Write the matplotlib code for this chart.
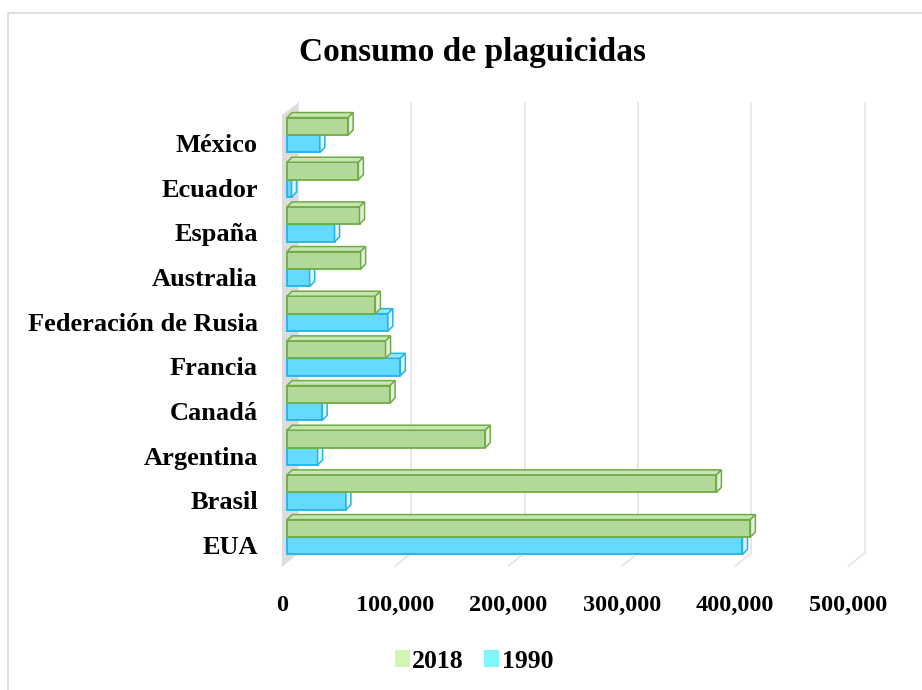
import matplotlib.pyplot as plt
from matplotlib.patches import Polygon, Rectangle, Patch
from matplotlib.transforms import ScaledTranslation

paises = ["EUA", "Brasil", "Argentina", "Canadá", "Francia",
          "Federación de Rusia", "Australia", "España", "Ecuador", "México"]
v2018 = [409000, 379000, 175000, 91000, 87000, 78000, 65000, 64000, 63000, 54000]
v1990 = [402000, 52000, 27000, 31000, 100000, 89000, 20000, 42000, 4000, 29000]
ticks = [0, 100000, 200000, 300000, 400000, 500000]

W, H = 922, 690
fig = plt.figure(figsize=(W / 100, H / 100), dpi=100)
serif = "Liberation Serif"

# axes placed in pixel terms so the fake 3D offsets are easy to reason about
ax_l, ax_r, ax_t, ax_b = 262, 890, 95, 580
ax = fig.add_axes([ax_l / W, 1 - ax_b / H, (ax_r - ax_l) / W, (ax_b - ax_t) / H])
x0_px, sx = 287, 113.3 / 1e5     # px of value 0, px per unit
y0_px, sy = 537, 44.67           # px of category 0, px per category
ax.set_xlim((ax_l - x0_px) / sx, (ax_r - x0_px) / sx)
ax.set_ylim((y0_px - ax_b) / sy, (y0_px - ax_t) / sy)


def dpx(dx, dy):
    # pixel offset -> data offset (dy positive = up)
    return dx / sx, dy / sy


# back wall / floor geometry
bx, _ = dpx(11, 0)        # back plane shift
fx, _ = dpx(-5, 0)        # front floor edge shift
y_floor_back = (y0_px - 553) / sy
y_floor_front = (y0_px - 566) / sy
y_wall_top = (y0_px - 103) / sy
y_wall_front_top = (y0_px - 115) / sy

grid_c = "#e4e4e4"
for t in ticks:
    ax.plot([t + bx, t + bx], [y_floor_back, y_wall_top], color=grid_c, lw=1.2, zorder=0)
    ax.plot([t + bx, t + fx], [y_floor_back, y_floor_front], color=grid_c, lw=1.2, zorder=0)

wall = Polygon([(fx, y_floor_front), (fx, y_wall_front_top),
                (bx, y_wall_top), (bx, y_floor_back)],
               closed=True, facecolor="#dcdcdc", edgecolor="none", zorder=0)
ax.add_patch(wall)

h = 0.39
ddx, ddy = dpx(5, 5)
idx = list(range(len(paises)))

series = [
    (v1990, [i - h for i in idx], "#66d9ff", "#1fb4ea", "#e2f5fc", "#9be6ff"),
    (v2018, idx, "#b3d998", "#6fac46", "#e6efde", "#c8e5b4"),
]
for vals, ys, face, edge, side_c, top_c in series:
    ax.barh(ys, vals, height=h, align="edge", color=face, edgecolor=edge,
            linewidth=1.3, zorder=2)
    for v, y in zip(vals, ys):
        top = Polygon([(0, y + h), (v, y + h), (v + ddx, y + h + ddy), (ddx, y + h + ddy)],
                      closed=True, facecolor=top_c, edgecolor=edge, lw=1.1, zorder=2)
        side = Polygon([(v, y), (v, y + h), (v + ddx, y + h + ddy), (v + ddx, y + ddy)],
                       closed=True, facecolor=side_c, edgecolor=edge, lw=1.1, zorder=2)
        ax.add_patch(top)
        ax.add_patch(side)

for s in ax.spines.values():
    s.set_visible(False)

ax.set_xticks(ticks)
ax.set_xticklabels([f"{t:,}" for t in ticks], fontfamily=serif,
                   fontweight="bold", fontsize=17.5)
ax.tick_params(axis="x", length=0, pad=11)
for lab in ax.get_xticklabels():
    lab.set_transform(lab.get_transform() + ScaledTranslation(-5 / 100, 0, fig.dpi_scale_trans))

ax.set_yticks(idx)
ax.set_yticklabels(paises, fontfamily=serif, fontweight="bold", fontsize=19)
ax.tick_params(axis="y", length=0, pad=3)
for lab in ax.get_yticklabels():
    lab.set_transform(lab.get_transform() + ScaledTranslation(0, -8 / 100, fig.dpi_scale_trans))

fig.text(472 / W, 1 - 52 / H, "Consumo de plaguicidas", ha="center", va="center",
         fontfamily=serif, fontweight="bold", fontsize=24)

handles = [Patch(facecolor="#d2f5b6", edgecolor="none", label="2018"),
           Patch(facecolor="#80f6ff", edgecolor="none", label="1990")]
leg = fig.legend(handles=handles, loc="center", bbox_to_anchor=(474 / W, 1 - 661 / H),
                 ncol=2, frameon=False, handlelength=0.58, handleheight=0.62,
                 handletextpad=0.1, columnspacing=0.8,
                 prop={"family": serif, "weight": "bold", "size": 18.5})

border = Rectangle((8 / W, -0.05), 1.1, 1 - 13 / H + 0.05, transform=fig.transFigure,
                   facecolor="none", edgecolor="#d9d9d9", lw=1.2)
fig.patches.append(border)

fig.savefig("out.png", dpi=100)
